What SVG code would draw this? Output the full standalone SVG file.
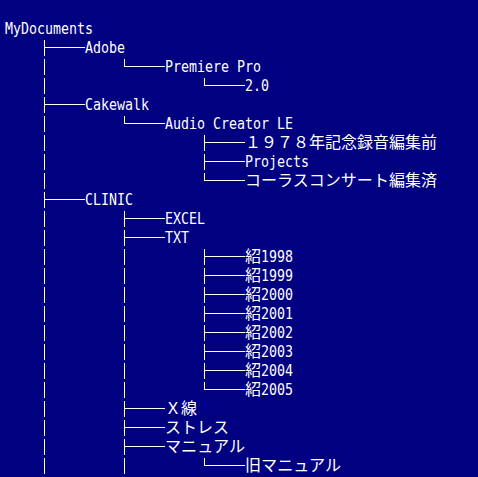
<svg xmlns="http://www.w3.org/2000/svg" width="478" height="477" viewBox="0 0 478 477">
<style>
text{fill:#fff;font-family:"DejaVu Sans Mono","Noto Sans CJK JP",monospace;font-size:16px;}
.j{font-family:"Noto Sans CJK JP",sans-serif;}
.c path{stroke:#fff;stroke-width:1;fill:none;shape-rendering:crispEdges;}
.d{stroke-dasharray:16 3;}
</style>
<rect width="478" height="477" fill="#000080"/>
<g id="connectors" class="c">
<path class="d" d="M44.5 40V474"/>
<path d="M44 47.5H85M44 104.5H85M44 199.5H85"/>
<path d="M124.5 59V67M124.5 116V124"/>
<path class="d" d="M124.5 211V474"/>
<path d="M124 66.5H165M124 123.5H165M124 218.5H165M124 237.5H165M124 408.5H165M124 427.5H165M124 446.5H165"/>
<path d="M204.5 78V86"/>
<path class="d" d="M204.5 135V181"/>
<path class="d" d="M204.5 249V390"/>
<path d="M204.5 458V466"/>
<path d="M204 85.5H245M204 142.5H245M204 161.5H245M204 180.5H245M204 256.5H245M204 275.5H245M204 294.5H245M204 313.5H245M204 332.5H245M204 351.5H245M204 370.5H245M204 389.5H245M204 465.5H245"/>
</g>
<g id="n-mydocuments"><text x="5" y="34" textLength="88" lengthAdjust="spacingAndGlyphs">MyDocuments</text></g>
<g id="n-adobe"><text x="85" y="53" textLength="40" lengthAdjust="spacingAndGlyphs">Adobe</text></g>
<g id="n-premiere"><text x="165" y="72" textLength="96" lengthAdjust="spacingAndGlyphs">Premiere Pro</text></g>
<g id="n-20"><text x="245" y="91" textLength="24" lengthAdjust="spacingAndGlyphs">2.0</text></g>
<g id="n-cakewalk"><text x="85" y="110" textLength="64" lengthAdjust="spacingAndGlyphs">Cakewalk</text></g>
<g id="n-audiocreator"><text x="165" y="129" textLength="128" lengthAdjust="spacingAndGlyphs">Audio Creator LE</text></g>
<g id="n-1978"><text class="j" x="245" y="148" textLength="192" lengthAdjust="spacingAndGlyphs">１９７８年記念録音編集前</text></g>
<g id="n-projects"><text x="245" y="167" textLength="64" lengthAdjust="spacingAndGlyphs">Projects</text></g>
<g id="n-chorus"><text class="j" x="245" y="186" textLength="192" lengthAdjust="spacingAndGlyphs">コーラスコンサート編集済</text></g>
<g id="n-clinic"><text x="85" y="205" textLength="48" lengthAdjust="spacingAndGlyphs">CLINIC</text></g>
<g id="n-excel"><text x="165" y="224" textLength="40" lengthAdjust="spacingAndGlyphs">EXCEL</text></g>
<g id="n-txt"><text x="165" y="243" textLength="24" lengthAdjust="spacingAndGlyphs">TXT</text></g>
<g id="n-1998"><text x="245" y="262">紹<tspan x="261" textLength="32" lengthAdjust="spacingAndGlyphs">1998</tspan></text></g>
<g id="n-1999"><text x="245" y="281">紹<tspan x="261" textLength="32" lengthAdjust="spacingAndGlyphs">1999</tspan></text></g>
<g id="n-2000"><text x="245" y="300">紹<tspan x="261" textLength="32" lengthAdjust="spacingAndGlyphs">2000</tspan></text></g>
<g id="n-2001"><text x="245" y="319">紹<tspan x="261" textLength="32" lengthAdjust="spacingAndGlyphs">2001</tspan></text></g>
<g id="n-2002"><text x="245" y="338">紹<tspan x="261" textLength="32" lengthAdjust="spacingAndGlyphs">2002</tspan></text></g>
<g id="n-2003"><text x="245" y="357">紹<tspan x="261" textLength="32" lengthAdjust="spacingAndGlyphs">2003</tspan></text></g>
<g id="n-2004"><text x="245" y="376">紹<tspan x="261" textLength="32" lengthAdjust="spacingAndGlyphs">2004</tspan></text></g>
<g id="n-2005"><text x="245" y="395">紹<tspan x="261" textLength="32" lengthAdjust="spacingAndGlyphs">2005</tspan></text></g>
<g id="n-xray"><text class="j" x="165" y="414" textLength="32" lengthAdjust="spacingAndGlyphs">Ｘ線</text></g>
<g id="n-stress"><text class="j" x="165" y="433" textLength="64" lengthAdjust="spacingAndGlyphs">ストレス</text></g>
<g id="n-manual"><text class="j" x="165" y="452" textLength="80" lengthAdjust="spacingAndGlyphs">マニュアル</text></g>
<g id="n-oldmanual"><text class="j" x="245" y="471" textLength="96" lengthAdjust="spacingAndGlyphs">旧マニュアル</text></g>
</svg>
